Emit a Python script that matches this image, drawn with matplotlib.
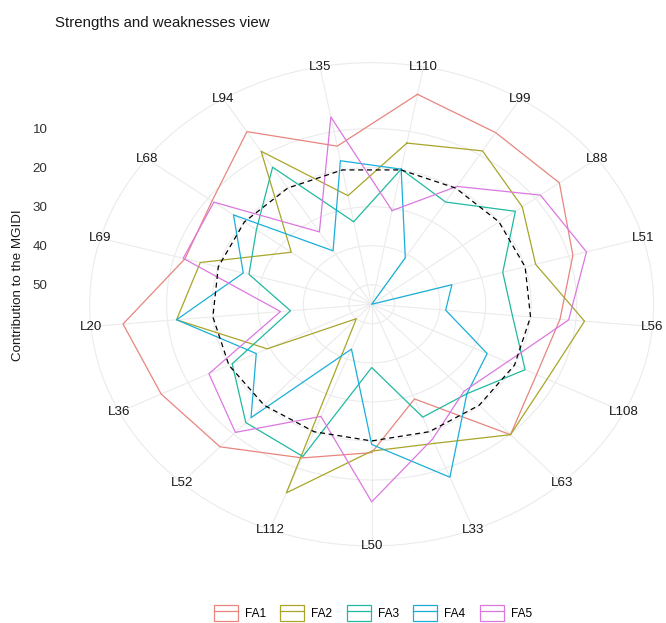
import numpy as np
import matplotlib.pyplot as plt
from matplotlib.patches import Patch
from matplotlib.lines import Line2D
from matplotlib.legend_handler import HandlerTuple

plt.rcParams['font.family'] = ['Liberation Sans', 'DejaVu Sans']

genotypes = ['L110', 'L99', 'L88', 'L51', 'L56', 'L108', 'L63', 'L33', 'L50',
             'L112', 'L52', 'L36', 'L20', 'L69', 'L68', 'L94', 'L35']

fa1 = [0.3, 3.3, 3.4, 9.1, 13.5, 14.6, 9.8, 29.0, 17.0, 12.8, 5.6, 3.4, 0.2, 12.4, 11.1, 3.0, 13.8]
fa2 = [13.0, 8.8, 13.6, 17.6, 8.1, 12.0, 9.8, 16.8, 17.4, 3.2, 50.0, 29.4, 12.0, 15.9, 32.9, 8.9, 26.7]
fa3 = [19.8, 24.2, 15.5, 25.1, 24.0, 17.4, 24.0, 24.0, 38.8, 13.2, 14.0, 20.8, 37.1, 27.0, 23.3, 13.7, 33.5]
fa4 = [19.8, 41.0, 55.0, 36.7, 38.7, 26.7, 24.0, 7.5, 19.1, 42.7, 15.7, 26.7, 12.0, 25.7, 17.0, 38.9, 17.6]
fa5 = [30.6, 19.5, 8.6, 6.0, 11.6, 21.8, 24.9, 18.0, 4.4, 24.2, 10.6, 15.1, 34.9, 12.0, 11.6, 33.2, 6.2]

factors = ['FA1', 'FA2', 'FA3', 'FA4', 'FA5']
series = [fa1, fa2, fa3, fa4, fa5]
colors = ['#E8857F', '#A8A52A', '#20B9A0', '#1AAFD8', '#DB78E0']
theoretical = 20  # 100 / number of factors

r_breaks = [10, 20, 30, 40, 50]

n = len(genotypes)
theta = (np.arange(n) + 0.5) * 2 * np.pi / n
theta_c = np.append(theta, theta[0])

vmax = 55.0
vmin = 0.0
outer = vmin - (vmax - vmin) * 0.125

fig = plt.figure(figsize=(6.66, 6.23), dpi=100)
box = [0.1347, 0.1238, 0.8468, 0.7756]
ax = fig.add_axes(box, projection='polar')
ax.set_aspect('auto')
ax.set_theta_zero_location('N')
ax.set_theta_direction(-1)
ax.set_ylim(vmax, outer)

ax.set_xticks(theta)
ax.set_xticklabels([])
ax.set_yticks(r_breaks)
ax.set_yticklabels([])
ax.grid(True, color='#EBEBEB', linewidth=0.8)
ax.spines['polar'].set_color('#EBEBEB')
ax.spines['polar'].set_linewidth(0.8)
ax.tick_params(length=0)

for vals, col in zip(series, colors):
    ax.plot(theta_c, np.append(vals, vals[0]), color=col, linewidth=0.9)

ax.plot(theta_c, np.full(n + 1, theoretical), color='black', linestyle=(0, (4, 3)),
        linewidth=0.9)

for t, g in zip(theta, genotypes):
    ax.text(t, outer, g, ha='center', va='center', fontsize=9.6, color='#1a1a1a')

# radial scale on the left
lab = fig.add_axes(box, frameon=False)
lab.set_ylim(vmax + (vmax - outer), outer)
lab.set_xticks([])
lab.set_yticks(r_breaks)
lab.set_yticklabels([str(b) for b in r_breaks], fontsize=9.6, color='#333333')
lab.tick_params(axis='y', length=0, pad=30.5)
lab.patch.set_visible(False)

fig.text(0.027, 0.543, 'Contribution to the MGIDI', rotation=90, ha='center', va='center',
         fontsize=9.6, color='#1a1a1a')
fig.text(0.083, 0.963, 'Strengths and weaknesses view', ha='left', va='center',
         fontsize=10.8, color='#1a1a1a')

handles = [(Patch(facecolor='none', edgecolor=c, linewidth=0.9),
            Line2D([], [], color=c, linewidth=0.9)) for c in colors]
fig.legend(handles, factors, loc='center', bbox_to_anchor=(0.56, 0.016), ncol=5,
           frameon=False, fontsize=8.6, handler_map={tuple: HandlerTuple(ndivide=1)},
           handlelength=2.0, handleheight=1.6, columnspacing=1.2, handletextpad=0.6)

fig.savefig('out.png', dpi=100)
